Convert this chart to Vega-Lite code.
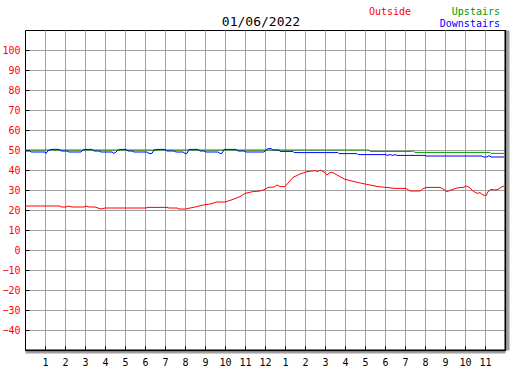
{
  "$schema": "https://vega.github.io/schema/vega-lite/v6.json",
  "width": 480,
  "height": 320,
  "autosize": {"type": "none"},
  "padding": {"left": 25, "top": 30, "right": 22, "bottom": 20},
  "background": "white",
  "title": {"text": "01/06/2022", "font": "DejaVu Sans Mono", "fontSize": 13, "fontWeight": "normal", "color": "black", "anchor": "middle", "offset": 2, "dy": 24, "dx": -4},
  "config": {
    "view": {"stroke": "black", "strokeWidth": 1},
    "axis": {"gridColor": "#a0a0a0", "gridWidth": 1, "gridOpacity": 1, "tickColor": "black", "tickWidth": 1, "labelFont": "DejaVu Sans Mono", "labelFontSize": 10, "domain": false, "title": null}
  },
  "resolve": {"axis": {"x": "independent", "y": "independent"}},
  "datasets": {
    "temps": [
      {"series": "Outside", "h": 0, "v": 22}, {"series": "Outside", "h": 1.75, "v": 22}, {"series": "Outside", "h": 1.8, "v": 21.5}, {"series": "Outside", "h": 2.05, "v": 21.5}, {"series": "Outside", "h": 2.15, "v": 22}, {"series": "Outside", "h": 2.35, "v": 21.5}, {"series": "Outside", "h": 2.95, "v": 21.5}, {"series": "Outside", "h": 3.05, "v": 22}, {"series": "Outside", "h": 3.2, "v": 21.5}, {"series": "Outside", "h": 3.5, "v": 21.5}, {"series": "Outside", "h": 3.65, "v": 21}, {"series": "Outside", "h": 3.8, "v": 20.5}, {"series": "Outside", "h": 4.0, "v": 21}, {"series": "Outside", "h": 6.05, "v": 21}, {"series": "Outside", "h": 6.15, "v": 21.3}, {"series": "Outside", "h": 7.1, "v": 21.3}, {"series": "Outside", "h": 7.2, "v": 21}, {"series": "Outside", "h": 7.6, "v": 21}, {"series": "Outside", "h": 7.7, "v": 20.5}, {"series": "Outside", "h": 8.05, "v": 20.5}, {"series": "Outside", "h": 8.25, "v": 21}, {"series": "Outside", "h": 8.6, "v": 21.7}, {"series": "Outside", "h": 8.9, "v": 22.5}, {"series": "Outside", "h": 9.25, "v": 23}, {"series": "Outside", "h": 9.6, "v": 24}, {"series": "Outside", "h": 10.0, "v": 24}, {"series": "Outside", "h": 10.4, "v": 25.3}, {"series": "Outside", "h": 10.75, "v": 26.7}, {"series": "Outside", "h": 11.0, "v": 28.3}, {"series": "Outside", "h": 11.4, "v": 29.2}, {"series": "Outside", "h": 11.75, "v": 29.5}, {"series": "Outside", "h": 12.0, "v": 30.3}, {"series": "Outside", "h": 12.15, "v": 31.3}, {"series": "Outside", "h": 12.45, "v": 31.5}, {"series": "Outside", "h": 12.6, "v": 32.5}, {"series": "Outside", "h": 12.75, "v": 31.7}, {"series": "Outside", "h": 13.0, "v": 31.7}, {"series": "Outside", "h": 13.2, "v": 34}, {"series": "Outside", "h": 13.4, "v": 36.3}, {"series": "Outside", "h": 13.75, "v": 38}, {"series": "Outside", "h": 14.1, "v": 39.2}, {"series": "Outside", "h": 14.5, "v": 39.7}, {"series": "Outside", "h": 14.65, "v": 39.2}, {"series": "Outside", "h": 14.75, "v": 40}, {"series": "Outside", "h": 14.85, "v": 39.5}, {"series": "Outside", "h": 15.0, "v": 38.7}, {"series": "Outside", "h": 15.1, "v": 37.5}, {"series": "Outside", "h": 15.25, "v": 38.7}, {"series": "Outside", "h": 15.4, "v": 38.7}, {"series": "Outside", "h": 15.6, "v": 37.5}, {"series": "Outside", "h": 15.75, "v": 36.7}, {"series": "Outside", "h": 16.0, "v": 35.3}, {"series": "Outside", "h": 16.25, "v": 34.7}, {"series": "Outside", "h": 16.55, "v": 34}, {"series": "Outside", "h": 16.85, "v": 33.3}, {"series": "Outside", "h": 17.25, "v": 32.5}, {"series": "Outside", "h": 17.65, "v": 31.7}, {"series": "Outside", "h": 18.15, "v": 31.2}, {"series": "Outside", "h": 18.5, "v": 30.8}, {"series": "Outside", "h": 19.05, "v": 30.8}, {"series": "Outside", "h": 19.25, "v": 29.5}, {"series": "Outside", "h": 19.75, "v": 29.5}, {"series": "Outside", "h": 19.9, "v": 30.7}, {"series": "Outside", "h": 20.1, "v": 31.3}, {"series": "Outside", "h": 20.75, "v": 31.3}, {"series": "Outside", "h": 20.9, "v": 30.5}, {"series": "Outside", "h": 21.1, "v": 29.2}, {"series": "Outside", "h": 21.35, "v": 30.2}, {"series": "Outside", "h": 21.6, "v": 31}, {"series": "Outside", "h": 21.9, "v": 31.3}, {"series": "Outside", "h": 22.1, "v": 32}, {"series": "Outside", "h": 22.25, "v": 31}, {"series": "Outside", "h": 22.4, "v": 29.5}, {"series": "Outside", "h": 22.6, "v": 28.3}, {"series": "Outside", "h": 22.75, "v": 28.7}, {"series": "Outside", "h": 22.9, "v": 27.5}, {"series": "Outside", "h": 23.05, "v": 27.2}, {"series": "Outside", "h": 23.15, "v": 29.2}, {"series": "Outside", "h": 23.3, "v": 30.3}, {"series": "Outside", "h": 23.5, "v": 30}, {"series": "Outside", "h": 23.65, "v": 30.3}, {"series": "Outside", "h": 23.8, "v": 31.3}, {"series": "Outside", "h": 23.95, "v": 32},

      {"series": "Upstairs", "h": 0, "v": 50}, {"series": "Upstairs", "h": 17.2, "v": 50}, {"series": "Upstairs", "h": 17.25, "v": 49.3}, {"series": "Upstairs", "h": 19.35, "v": 49.3}, {"series": "Upstairs", "h": 19.4, "v": 49.7}, {"series": "Upstairs", "h": 19.5, "v": 48.8}, {"series": "Upstairs", "h": 23.25, "v": 48.8}, {"series": "Upstairs", "h": 23.3, "v": 48.3}, {"series": "Upstairs", "h": 23.95, "v": 48.3},

      {"series": "Downstairs", "h": 0.0, "v": 49.5}, {"series": "Downstairs", "h": 0.25, "v": 49.5}, {"series": "Downstairs", "h": 0.3, "v": 49}, {"series": "Downstairs", "h": 1.0, "v": 49}, {"series": "Downstairs", "h": 1.05, "v": 48.3}, {"series": "Downstairs", "h": 1.1, "v": 49}, {"series": "Downstairs", "h": 1.2, "v": 50}, {"series": "Downstairs", "h": 1.35, "v": 50.3}, {"series": "Downstairs", "h": 1.7, "v": 50.3}, {"series": "Downstairs", "h": 1.8, "v": 49.5}, {"series": "Downstairs", "h": 2.1, "v": 49.5}, {"series": "Downstairs", "h": 2.2, "v": 49}, {"series": "Downstairs", "h": 2.8, "v": 49}, {"series": "Downstairs", "h": 2.9, "v": 50}, {"series": "Downstairs", "h": 3.05, "v": 50.3}, {"series": "Downstairs", "h": 3.35, "v": 50.3}, {"series": "Downstairs", "h": 3.45, "v": 49.5}, {"series": "Downstairs", "h": 3.7, "v": 49.5}, {"series": "Downstairs", "h": 3.8, "v": 49}, {"series": "Downstairs", "h": 4.35, "v": 49}, {"series": "Downstairs", "h": 4.45, "v": 48.3}, {"series": "Downstairs", "h": 4.55, "v": 49}, {"series": "Downstairs", "h": 4.65, "v": 50}, {"series": "Downstairs", "h": 4.8, "v": 50.3}, {"series": "Downstairs", "h": 5.05, "v": 50.3}, {"series": "Downstairs", "h": 5.15, "v": 49.5}, {"series": "Downstairs", "h": 5.35, "v": 49.5}, {"series": "Downstairs", "h": 5.45, "v": 49}, {"series": "Downstairs", "h": 6.1, "v": 49}, {"series": "Downstairs", "h": 6.2, "v": 48.3}, {"series": "Downstairs", "h": 6.35, "v": 48.3}, {"series": "Downstairs", "h": 6.45, "v": 50}, {"series": "Downstairs", "h": 6.6, "v": 50.3}, {"series": "Downstairs", "h": 7.0, "v": 50.3}, {"series": "Downstairs", "h": 7.1, "v": 49.5}, {"series": "Downstairs", "h": 7.45, "v": 49.5}, {"series": "Downstairs", "h": 7.55, "v": 49}, {"series": "Downstairs", "h": 7.9, "v": 49}, {"series": "Downstairs", "h": 8.0, "v": 48.3}, {"series": "Downstairs", "h": 8.1, "v": 48.3}, {"series": "Downstairs", "h": 8.2, "v": 50.3}, {"series": "Downstairs", "h": 8.65, "v": 50.3}, {"series": "Downstairs", "h": 8.75, "v": 49.5}, {"series": "Downstairs", "h": 8.95, "v": 49.5}, {"series": "Downstairs", "h": 9.05, "v": 49}, {"series": "Downstairs", "h": 9.65, "v": 49}, {"series": "Downstairs", "h": 9.75, "v": 48.3}, {"series": "Downstairs", "h": 9.85, "v": 48.3}, {"series": "Downstairs", "h": 9.95, "v": 50.3}, {"series": "Downstairs", "h": 10.55, "v": 50.3}, {"series": "Downstairs", "h": 10.65, "v": 49.5}, {"series": "Downstairs", "h": 10.95, "v": 49.5}, {"series": "Downstairs", "h": 11.05, "v": 49}, {"series": "Downstairs", "h": 11.95, "v": 49}, {"series": "Downstairs", "h": 12.05, "v": 50}, {"series": "Downstairs", "h": 12.15, "v": 50.7}, {"series": "Downstairs", "h": 12.3, "v": 50.7}, {"series": "Downstairs", "h": 12.4, "v": 50}, {"series": "Downstairs", "h": 12.7, "v": 50}, {"series": "Downstairs", "h": 12.75, "v": 49.3}, {"series": "Downstairs", "h": 13.4, "v": 49.3}, {"series": "Downstairs", "h": 13.45, "v": 48.7}, {"series": "Downstairs", "h": 15.65, "v": 48.7}, {"series": "Downstairs", "h": 15.7, "v": 48.2}, {"series": "Downstairs", "h": 16.6, "v": 48.2}, {"series": "Downstairs", "h": 16.65, "v": 47.7}, {"series": "Downstairs", "h": 18.05, "v": 47.7}, {"series": "Downstairs", "h": 18.1, "v": 47.3}, {"series": "Downstairs", "h": 18.25, "v": 47.7}, {"series": "Downstairs", "h": 18.4, "v": 47.3}, {"series": "Downstairs", "h": 18.5, "v": 47.7}, {"series": "Downstairs", "h": 18.6, "v": 47.3}, {"series": "Downstairs", "h": 20.0, "v": 47.3}, {"series": "Downstairs", "h": 20.05, "v": 47}, {"series": "Downstairs", "h": 22.85, "v": 47}, {"series": "Downstairs", "h": 22.9, "v": 46.5}, {"series": "Downstairs", "h": 23.1, "v": 46.5}, {"series": "Downstairs", "h": 23.15, "v": 47}, {"series": "Downstairs", "h": 23.25, "v": 47}, {"series": "Downstairs", "h": 23.3, "v": 46.5}, {"series": "Downstairs", "h": 23.95, "v": 46.5}
    ],
    "labels": [
      {"series": "Outside"}, {"series": "Upstairs"}, {"series": "Downstairs"}
    ]
  },
  "layer": [
    {
      "data": {"name": "temps"},
      "mark": {"type": "line", "strokeWidth": 1, "interpolate": "linear"},
      "encoding": {
        "x": {"field": "h", "type": "quantitative", "scale": {"domain": [0, 24], "nice": false, "zero": false},
              "axis": {"values": [1,2,3,4,5,6,7,8,9,10,11,12,13,14,15,16,17,18,19,20,21,22,23], "labelExpr": "datum.value % 12 == 0 ? '12' : '' + (datum.value % 12)", "tickSize": -4, "labelPadding": 11, "labelColor": "black", "title": null, "labelFlush": false, "labelOverlap": false}},
        "y": {"field": "v", "type": "quantitative", "scale": {"domain": [-50, 110], "nice": false, "zero": false},
              "axis": {"values": [-40,-30,-20,-10,0,10,20,30,40,50,60,70,80,90,100], "tickSize": -4, "labelPadding": 9, "labelColor": "red", "title": null, "labelOverlap": false}},
        "color": {"field": "series", "type": "nominal", "scale": {"domain": ["Outside", "Upstairs", "Downstairs"], "range": ["#ff0000", "#009a00", "#0000ff"]}, "legend": null, "sort": ["Outside", "Upstairs", "Downstairs"]},
        "order": {"field": "h", "type": "quantitative"}
      }
    },
    {
      "data": {"name": "labels"},
      "transform": [{"filter": "datum.series == 'Outside'"}],
      "mark": {"type": "text", "font": "DejaVu Sans Mono", "fontSize": 10, "align": "left", "baseline": "alphabetic"},
      "encoding": {
        "x": {"datum": 17.2, "type": "quantitative", "axis": {"orient": "bottom", "labels": false, "ticks": false, "grid": false, "domain": true, "domainColor": "black", "domainWidth": 2, "offset": 0, "title": null}},
        "y": {"datum": 117.5, "type": "quantitative", "axis": {"orient": "right", "labels": false, "ticks": false, "grid": false, "domain": true, "domainColor": "black", "domainWidth": 2, "offset": 0, "title": null}},
        "text": {"field": "series"}, "color": {"field": "series", "type": "nominal", "legend": null}}
    },
    {
      "data": {"name": "labels"},
      "transform": [{"filter": "datum.series == 'Upstairs'"}],
      "mark": {"type": "text", "font": "DejaVu Sans Mono", "fontSize": 10, "align": "right", "baseline": "alphabetic"},
      "encoding": {
        "x": {"datum": 23.75, "type": "quantitative", "axis": {"orient": "bottom", "labels": false, "ticks": false, "grid": false, "domain": true, "domainColor": "#a0a0a0", "domainWidth": 2, "offset": 2, "title": null}},
        "y": {"datum": 117.5, "type": "quantitative", "axis": {"orient": "right", "labels": false, "ticks": false, "grid": false, "domain": true, "domainColor": "#a0a0a0", "domainWidth": 3, "offset": 2.5, "title": null}},
        "text": {"field": "series"}, "color": {"field": "series", "type": "nominal", "legend": null}}
    },
    {
      "data": {"name": "labels"},
      "transform": [{"filter": "datum.series == 'Downstairs'"}],
      "mark": {"type": "text", "font": "DejaVu Sans Mono", "fontSize": 10, "align": "right", "baseline": "alphabetic"},
      "encoding": {"x": {"datum": 23.75, "type": "quantitative", "axis": null}, "y": {"datum": 111.5, "type": "quantitative", "axis": null}, "text": {"field": "series"}, "color": {"field": "series", "type": "nominal", "legend": null}}
    }
  ]
}
